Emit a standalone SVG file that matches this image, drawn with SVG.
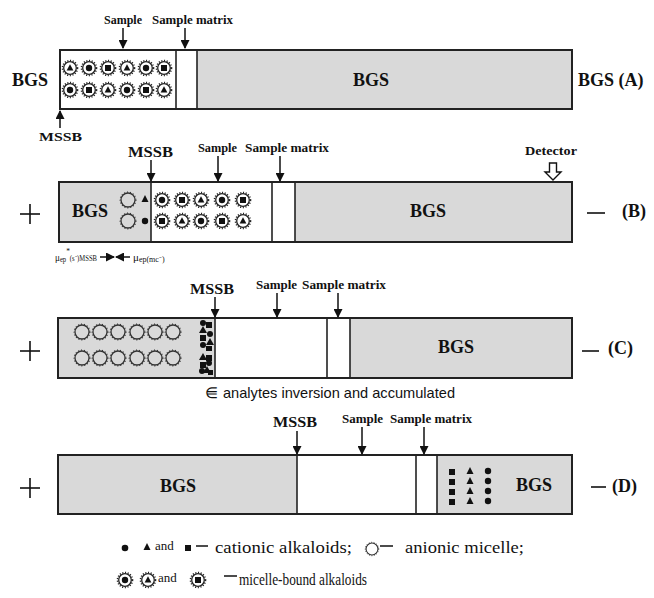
<svg xmlns="http://www.w3.org/2000/svg" width="654" height="598" viewBox="0 0 654 598">
<style>
.band{stroke:#222;stroke-width:2}
.g{fill:#d9d9d9}
.w{fill:#fff}
.div{stroke:#222;stroke-width:1.6}
.lab{font-family:"Liberation Serif",serif;font-weight:bold;fill:#111}
.big{font-family:"Liberation Serif",serif;font-weight:bold;font-size:18px;fill:#111}
.sm{font-family:"Liberation Serif",serif;font-weight:bold;font-size:13px;fill:#111}
.reg{font-family:"Liberation Serif",serif;font-size:17px;fill:#111}
.arr{stroke:#111;stroke-width:1.5;fill:none;marker-end:url(#ah)}
.pm{stroke:#111;stroke-width:1.6}
</style>
<defs>
<marker id="ah" markerUnits="userSpaceOnUse" markerWidth="9" markerHeight="9" refX="8" refY="4.5" orient="auto">
<path d="M0,0 L9,4.5 L0,9 Z" fill="#111"/>
</marker>
<g id="ring"><circle r="6.3" fill="#fff" stroke="#222" stroke-width="1.3"/><circle r="7.5" fill="none" stroke="#222" stroke-width="1.6" stroke-dasharray="1.1 1.6"/></g>
<path id="tri" d="M0,-3.8 L3.4,2.6 L-3.4,2.6 Z" fill="#111"/>
<circle id="dot" r="3.2" fill="#111"/>
<rect id="sq" x="-3" y="-3" width="6" height="6" fill="#111"/>
<g id="mt"><use href="#ring"/><use href="#tri"/></g>
<g id="md"><use href="#ring"/><use href="#dot"/></g>
<g id="ms"><use href="#ring"/><use href="#sq"/></g>
<g id="emp"><circle r="7" fill="none" stroke="#333" stroke-width="1.3"/><circle r="7.9" fill="none" stroke="#333" stroke-width="1.1" stroke-dasharray="1 2"/></g>
</defs>

<!-- Band A -->
<g id="bandA">
<rect class="band w" x="60" y="50" width="512" height="59"/>
<rect class="g" x="197" y="51" width="374" height="57"/>
<line class="div" x1="176" y1="50" x2="176" y2="109"/>
<line class="div" x1="197" y1="50" x2="197" y2="109"/>
<text class="big" x="12" y="86">BGS</text>
<text class="big" x="353" y="86">BGS</text>
<text class="big" x="578" y="86">BGS (A)</text>
<text class="sm" x="104" y="24" textLength="38" lengthAdjust="spacingAndGlyphs">Sample</text>
<text class="sm" x="152" y="24" textLength="81" lengthAdjust="spacingAndGlyphs">Sample matrix</text>
<text class="sm" x="39" y="141" textLength="43" lengthAdjust="spacingAndGlyphs">MSSB</text>
<use href="#mt" x="70" y="68"/><use href="#md" x="89" y="68"/><use href="#ms" x="108" y="68"/><use href="#mt" x="127" y="68"/><use href="#md" x="146" y="68"/><use href="#ms" x="164" y="68"/>
<use href="#md" x="70" y="90"/><use href="#ms" x="89" y="90"/><use href="#mt" x="108" y="90"/><use href="#md" x="127" y="90"/><use href="#ms" x="146" y="90"/><use href="#mt" x="164" y="90"/>
</g>

<!-- Band B -->
<g id="bandB">
<rect class="band w" x="59" y="182" width="513" height="60"/>
<rect class="g" x="60" y="183" width="91" height="58"/>
<rect class="g" x="295" y="183" width="276" height="58"/>
<line class="div" x1="151" y1="182" x2="151" y2="242"/>
<line class="div" x1="272" y1="182" x2="272" y2="242"/>
<line class="div" x1="295" y1="182" x2="295" y2="242"/>
<text class="big" x="72" y="217">BGS</text>
<text class="big" x="410" y="217">BGS</text>
<text class="big" x="622" y="217">(B)</text>
<line class="pm" x1="20" y1="214" x2="40" y2="214"/><line class="pm" x1="30" y1="204" x2="30" y2="224"/>
<line class="pm" x1="587" y1="213" x2="605" y2="213"/>
<text class="lab" x="128" y="157" font-size="15" textLength="45" lengthAdjust="spacingAndGlyphs">MSSB</text>
<text class="sm" x="198" y="152" textLength="39" lengthAdjust="spacingAndGlyphs">Sample</text>
<text class="sm" x="245" y="152" textLength="84" lengthAdjust="spacingAndGlyphs">Sample matrix</text>
<text class="sm" x="525" y="155" textLength="52" lengthAdjust="spacingAndGlyphs">Detector</text>
<path d="M549.5,163 h7 v9 h4.5 l-8,8 l-8,-8 h4.5 z" fill="#fff" stroke="#111" stroke-width="1.4"/>
<use href="#emp" x="128" y="200"/><use href="#emp" x="128" y="221"/>
<path d="M145,195 L148.5,202 L141.5,202 Z" fill="#111"/><circle cx="145" cy="221" r="3.2" fill="#111"/>
<use href="#md" x="162" y="200"/><use href="#ms" x="182" y="200"/><use href="#mt" x="201" y="200"/><use href="#md" x="222" y="200"/><use href="#ms" x="243" y="200"/>
<use href="#ms" x="162" y="221"/><use href="#mt" x="182" y="221"/><use href="#md" x="201" y="221"/><use href="#ms" x="222" y="221"/><use href="#mt" x="243" y="221"/>
<text font-family="Liberation Serif,serif" font-size="11" fill="#111" x="55" y="261" textLength="42" lengthAdjust="spacingAndGlyphs">μ<tspan font-size="8" dy="1">ep</tspan><tspan font-size="9" dy="-8">*</tspan><tspan font-size="8" dy="7">(s⁻)MSSB</tspan></text>
<text font-family="Liberation Serif,serif" font-size="11" fill="#111" x="133" y="261">μ<tspan font-size="8" dy="1">ep(mc⁻)</tspan></text>
</g>

<!-- Band C -->
<g id="bandC">
<rect class="band w" x="58" y="318" width="514" height="60"/>
<rect class="g" x="59" y="319" width="156" height="58"/>
<rect class="g" x="350" y="319" width="221" height="58"/>
<line class="div" x1="215" y1="318" x2="215" y2="378"/>
<line class="div" x1="327" y1="318" x2="327" y2="378"/>
<line class="div" x1="350" y1="318" x2="350" y2="378"/>
<text class="big" x="438" y="353">BGS</text>
<text class="big" x="608" y="354">(C)</text>
<line class="pm" x1="20" y1="351" x2="40" y2="351"/><line class="pm" x1="30" y1="341" x2="30" y2="361"/>
<line class="pm" x1="582" y1="351" x2="599" y2="351"/>
<text class="lab" x="190" y="294" font-size="15" textLength="44" lengthAdjust="spacingAndGlyphs">MSSB</text>
<text class="sm" x="256" y="289" textLength="41" lengthAdjust="spacingAndGlyphs">Sample</text>
<text class="sm" x="302" y="289" textLength="84" lengthAdjust="spacingAndGlyphs">Sample matrix</text>
<use href="#emp" x="82" y="332"/><use href="#emp" x="100" y="332"/><use href="#emp" x="118" y="332"/><use href="#emp" x="137" y="332"/><use href="#emp" x="155" y="332"/><use href="#emp" x="173" y="332"/>
<use href="#emp" x="82" y="358"/><use href="#emp" x="100" y="358"/><use href="#emp" x="118" y="358"/><use href="#emp" x="137" y="358"/><use href="#emp" x="155" y="358"/><use href="#emp" x="173" y="358"/>
<g fill="#111">
<circle cx="203" cy="323" r="3"/>
<rect x="206" y="322" width="6" height="6"/>
<path d="M203,326 L207,333 L199,333 Z"/>
<circle cx="210" cy="334" r="3"/>
<rect x="200" y="335" width="6" height="6"/>
<path d="M210,338 L214,345 L206,345 Z"/>
<circle cx="203" cy="345" r="3"/>
<rect x="206" y="346" width="6" height="5"/>
<path d="M203,353 L207,360 L199,360 Z"/>
<rect x="206" y="355" width="6" height="6"/>
<circle cx="209" cy="363" r="3"/>
<rect x="200" y="362" width="6" height="6"/>
<path d="M207,366 L211,373 L203,373 Z"/>
<circle cx="202" cy="371" r="3"/>
<rect x="208" y="370" width="5" height="5"/>
</g>
<text x="205" y="398" font-family="Liberation Sans,sans-serif" font-size="15" fill="#111">⋹</text>
<text x="223" y="398" font-family="Liberation Sans,sans-serif" font-size="15" fill="#111" textLength="232" lengthAdjust="spacingAndGlyphs">analytes inversion and accumulated</text>
</g>

<!-- Band D -->
<g id="bandD">
<rect class="band w" x="58" y="455" width="514" height="59"/>
<rect class="g" x="59" y="456" width="238" height="57"/>
<rect class="g" x="437" y="456" width="134" height="57"/>
<line class="div" x1="297" y1="455" x2="297" y2="514"/>
<line class="div" x1="416" y1="455" x2="416" y2="514"/>
<line class="div" x1="437" y1="455" x2="437" y2="514"/>
<text class="big" x="160" y="492">BGS</text>
<text class="big" x="516" y="491">BGS</text>
<text class="big" x="612" y="492">(D)</text>
<line class="pm" x1="591" y1="487" x2="606" y2="487"/>
<line class="pm" x1="20" y1="488" x2="40" y2="488"/><line class="pm" x1="30" y1="478" x2="30" y2="498"/>
<text class="lab" x="273" y="427" font-size="15" textLength="44" lengthAdjust="spacingAndGlyphs">MSSB</text>
<text class="sm" x="342" y="423" textLength="41" lengthAdjust="spacingAndGlyphs">Sample</text>
<text class="sm" x="390" y="423" textLength="82" lengthAdjust="spacingAndGlyphs">Sample matrix</text>
<g fill="#111">
<rect x="449" y="469" width="6" height="6"/><rect x="449" y="479" width="6" height="6"/><rect x="449" y="489" width="6" height="6"/><rect x="449" y="499" width="6" height="6"/>
<path d="M470,467 L473.5,474 L466.5,474 Z"/><path d="M470,477 L473.5,484 L466.5,484 Z"/><path d="M470,487 L473.5,494 L466.5,494 Z"/><path d="M470,497 L473.5,504 L466.5,504 Z"/>
<circle cx="488" cy="471" r="3.2"/><circle cx="488" cy="481" r="3.2"/><circle cx="488" cy="491" r="3.2"/><circle cx="488" cy="501" r="3.2"/>
</g>
</g>

<!-- Legend -->
<g id="legend">
<circle cx="125" cy="548" r="3.3" fill="#111"/>
<path d="M147,543 L150.5,550 L143.5,550 Z" fill="#111"/>
<text x="155" y="550" font-family="Liberation Serif,serif" font-size="13" fill="#111">and</text>
<rect x="185" y="545" width="6" height="6" fill="#111"/>
<line x1="196" y1="546" x2="208" y2="546" stroke="#111" stroke-width="1.5"/>
<text class="reg" x="215" y="553" textLength="137" lengthAdjust="spacingAndGlyphs">cationic alkaloids;</text>
<g transform="translate(372,549) scale(0.85)"><use href="#emp"/></g>
<line x1="380" y1="546" x2="393" y2="546" stroke="#111" stroke-width="1.5"/>
<text class="reg" x="405" y="553" textLength="119" lengthAdjust="spacingAndGlyphs">anionic micelle;</text>
<use href="#md" x="125" y="580"/>
<use href="#mt" x="148" y="580"/>
<text x="158" y="582" font-family="Liberation Serif,serif" font-size="13" fill="#111">and</text>
<use href="#ms" x="198" y="580"/>
<line x1="224" y1="576" x2="237" y2="576" stroke="#111" stroke-width="1.5"/>
<text class="reg" x="239" y="585" textLength="128" lengthAdjust="spacingAndGlyphs">micelle-bound alkaloids</text>
</g>

<!-- Connectors -->
<g id="connectors">
<line class="arr" x1="123" y1="28" x2="123" y2="48"/>
<line class="arr" x1="185" y1="28" x2="185" y2="48"/>
<line class="arr" x1="60" y1="128" x2="60" y2="111"/>
<line class="arr" x1="151" y1="160" x2="151" y2="181"/>
<line class="arr" x1="218" y1="156" x2="218" y2="181"/>
<line class="arr" x1="280" y1="156" x2="280" y2="181"/>
<line class="arr" x1="100" y1="257" x2="114" y2="257"/>
<line class="arr" x1="130" y1="257" x2="116" y2="257"/>
<line class="arr" x1="215" y1="297" x2="215" y2="317"/>
<line class="arr" x1="277" y1="293" x2="277" y2="317"/>
<line class="arr" x1="338" y1="293" x2="338" y2="317"/>
<line class="arr" x1="297" y1="431" x2="297" y2="454"/>
<line class="arr" x1="362" y1="427" x2="362" y2="454"/>
<line class="arr" x1="424" y1="427" x2="424" y2="454"/>
</g>
</svg>
